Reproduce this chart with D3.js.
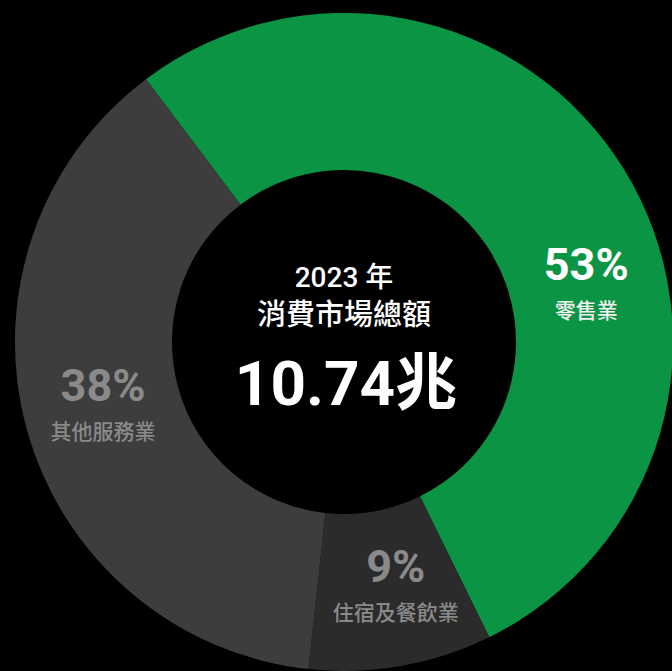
<!DOCTYPE html>
<html><head><meta charset="utf-8">
<script src="https://cdn.jsdelivr.net/npm/d3@7"></script>
<style>html,body{margin:0;padding:0;background:#000;}svg{display:block;}</style>
</head><body>
<svg id="c" width="672" height="671"></svg>
<script>
const categories = ["零售業", "住宿及餐飲業", "其他服務業"];
const shares = [53, 9, 38];
const pctLabels = ["53%", "9%", "38%"];
const centerLines = ["2023 年", "消費市場總額", "10.74兆"];

const colors = ["#0b9444", "#2b2b2b", "#3d3d3d"];
const pctColors = ["#ffffff", "#8a8a8a", "#8a8a8a"];
const nameColors = ["#f0f0f0", "#8a8a8a", "#8a8a8a"];
const labelAngles = [76.6, 168.0, 255.4];
const labelR = 249;

const W = 672, H = 671, cx = 344, cy = 342, rOuter = 329, rInner = 172;
const svg = d3.select("#c");
svg.append("rect").attr("width", W).attr("height", H).attr("fill", "#000");
const g = svg.append("g").attr("transform", `translate(${cx},${cy})`);

const start = -37 * Math.PI / 180;
const pie = d3.pie().sort(null).value(d => d).startAngle(start).endAngle(start + 2 * Math.PI);
const arcs = pie(shares);
const arc = d3.arc().innerRadius(rInner).outerRadius(rOuter);

g.selectAll("path.slice").data(arcs).join("path")
  .attr("class", "slice").attr("d", arc).attr("fill", (d, i) => colors[i]);

const fontNum = "Roboto, 'Noto Sans', 'Noto Sans CJK TC', sans-serif";
const fontCJK = "'Noto Sans CJK TC', 'Noto Sans', sans-serif";

arcs.forEach((d, i) => {
  const a = labelAngles[i] * Math.PI / 180;
  const x = labelR * Math.sin(a), y = -labelR * Math.cos(a);
  g.append("text").attr("x", x).attr("y", y - 4)
    .attr("text-anchor", "middle").attr("fill", pctColors[i])
    .attr("font-family", fontNum).attr("font-weight", 700).attr("font-size", 45)
    .text(pctLabels[i]);
  g.append("text").attr("x", x).attr("y", y + 34)
    .attr("text-anchor", "middle").attr("fill", nameColors[i])
    .attr("font-family", fontCJK).attr("font-weight", 500).attr("font-size", 21)
    .text(categories[i]);
});

svg.append("text").attr("x", cx).attr("y", 287).attr("text-anchor", "middle")
  .attr("fill", "#fff").attr("font-family", fontNum).attr("font-weight", 500).attr("font-size", 28)
  .text(centerLines[0]);
svg.append("text").attr("x", cx).attr("y", 325).attr("text-anchor", "middle")
  .attr("fill", "#fff").attr("font-family", fontCJK).attr("font-weight", 500).attr("font-size", 29)
  .text(centerLines[1]);
svg.append("text").attr("x", cx + 2).attr("y", 405).attr("text-anchor", "middle")
  .attr("fill", "#fff").attr("font-family", fontNum).attr("font-weight", 700).attr("font-size", 62)
  .text(centerLines[2]);
</script>
</body></html>
